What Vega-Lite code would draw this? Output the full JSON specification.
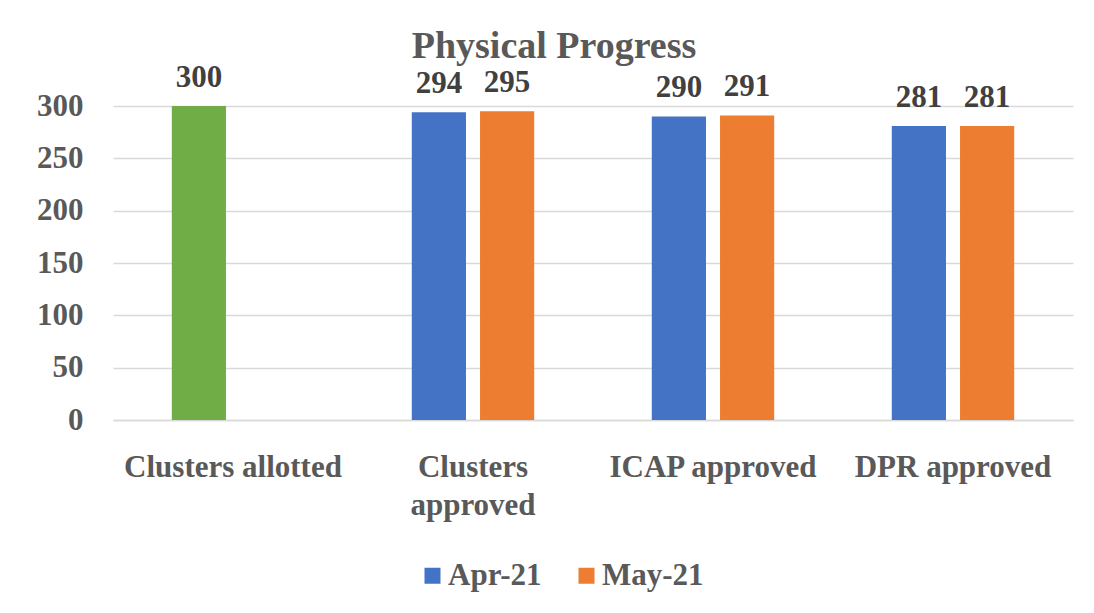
{
  "$schema": "https://vega.github.io/schema/vega-lite/v6.json",
  "width": 960,
  "height": 314,
  "autosize": {"type": "none"},
  "padding": {"left": 113, "top": 106, "right": 21, "bottom": 193},
  "background": "white",
  "title": {
    "text": "Physical Progress",
    "font": "Liberation Serif",
    "fontSize": 38,
    "fontWeight": "bold",
    "color": "#595959",
    "anchor": "middle",
    "dx": -39,
    "offset": 8,
    "baseline": "alphabetic",
    "dy": 42
  },
  "data": {
    "values": [
      {"category": "Clusters allotted", "series": "Apr-21", "value": 300},
      {"category": "Clusters approved", "series": "Apr-21", "value": 294},
      {"category": "Clusters approved", "series": "May-21", "value": 295},
      {"category": "ICAP approved", "series": "Apr-21", "value": 290},
      {"category": "ICAP approved", "series": "May-21", "value": 291},
      {"category": "DPR approved", "series": "Apr-21", "value": 281},
      {"category": "DPR approved", "series": "May-21", "value": 281}
    ]
  },
  "encoding": {
    "x": {
      "field": "category",
      "type": "nominal",
      "sort": null,
      "scale": {"paddingInner": 0.49, "paddingOuter": 0.245},
      "axis": {
        "title": null,
        "labelAngle": 0,
        "labelFont": "Liberation Serif",
        "labelFontSize": 31,
        "labelFontWeight": "bold",
        "labelColor": "#595959",
        "labelPadding": 32,
        "labelLineHeight": 38,
        "labelExpr": "datum.label == 'Clusters approved' ? ['Clusters', 'approved'] : datum.label",
        "ticks": false,
        "domain": true,
        "domainColor": "#d9d9d9",
        "domainWidth": 1.5,
        "labelLimit": 400
      }
    },
    "xOffset": {
      "field": "series",
      "type": "nominal",
      "scale": {"domain": ["Apr-21", "May-21"], "paddingInner": 0.206, "paddingOuter": 0}
    },
    "y": {
      "field": "value",
      "type": "quantitative",
      "scale": {"domain": [0, 300], "nice": false},
      "axis": {
        "title": null,
        "values": [0, 50, 100, 150, 200, 250, 300],
        "labelFont": "Liberation Serif",
        "labelFontSize": 31,
        "labelFontWeight": "bold",
        "labelColor": "#595959",
        "labelPadding": 30,
        "ticks": false,
        "domain": false,
        "grid": true,
        "gridColor": "#d9d9d9",
        "gridWidth": 1.5
      }
    }
  },
  "layer": [
    {
      "mark": {"type": "bar"},
      "encoding": {
        "color": {
          "condition": {"test": "datum.category === 'Clusters allotted'", "value": "#70AD47"},
          "field": "series",
          "type": "nominal",
          "scale": {"domain": ["Apr-21", "May-21"], "range": ["#4472C4", "#ED7D31"]},
          "legend": {
            "title": null,
            "orient": "none",
            "direction": "horizontal",
            "legendX": 304,
            "legendY": 454,
            "symbolType": "square",
            "symbolSize": 256,
            "symbolStrokeWidth": 0,
            "labelFont": "Liberation Serif",
            "labelFontSize": 31,
            "labelFontWeight": "bold",
            "labelColor": "#595959",
            "labelOffset": 0,
            "columnPadding": 29,
            "labelLimit": 300
          }
        }
      }
    },
    {
      "mark": {
        "type": "text",
        "font": "Liberation Serif",
        "fontSize": 31,
        "fontWeight": "bold",
        "color": "#404040",
        "baseline": "alphabetic",
        "dy": -19
      },
      "encoding": {
        "text": {"field": "value", "type": "quantitative"}
      }
    }
  ],
  "config": {
    "view": {"stroke": null}
  }
}
